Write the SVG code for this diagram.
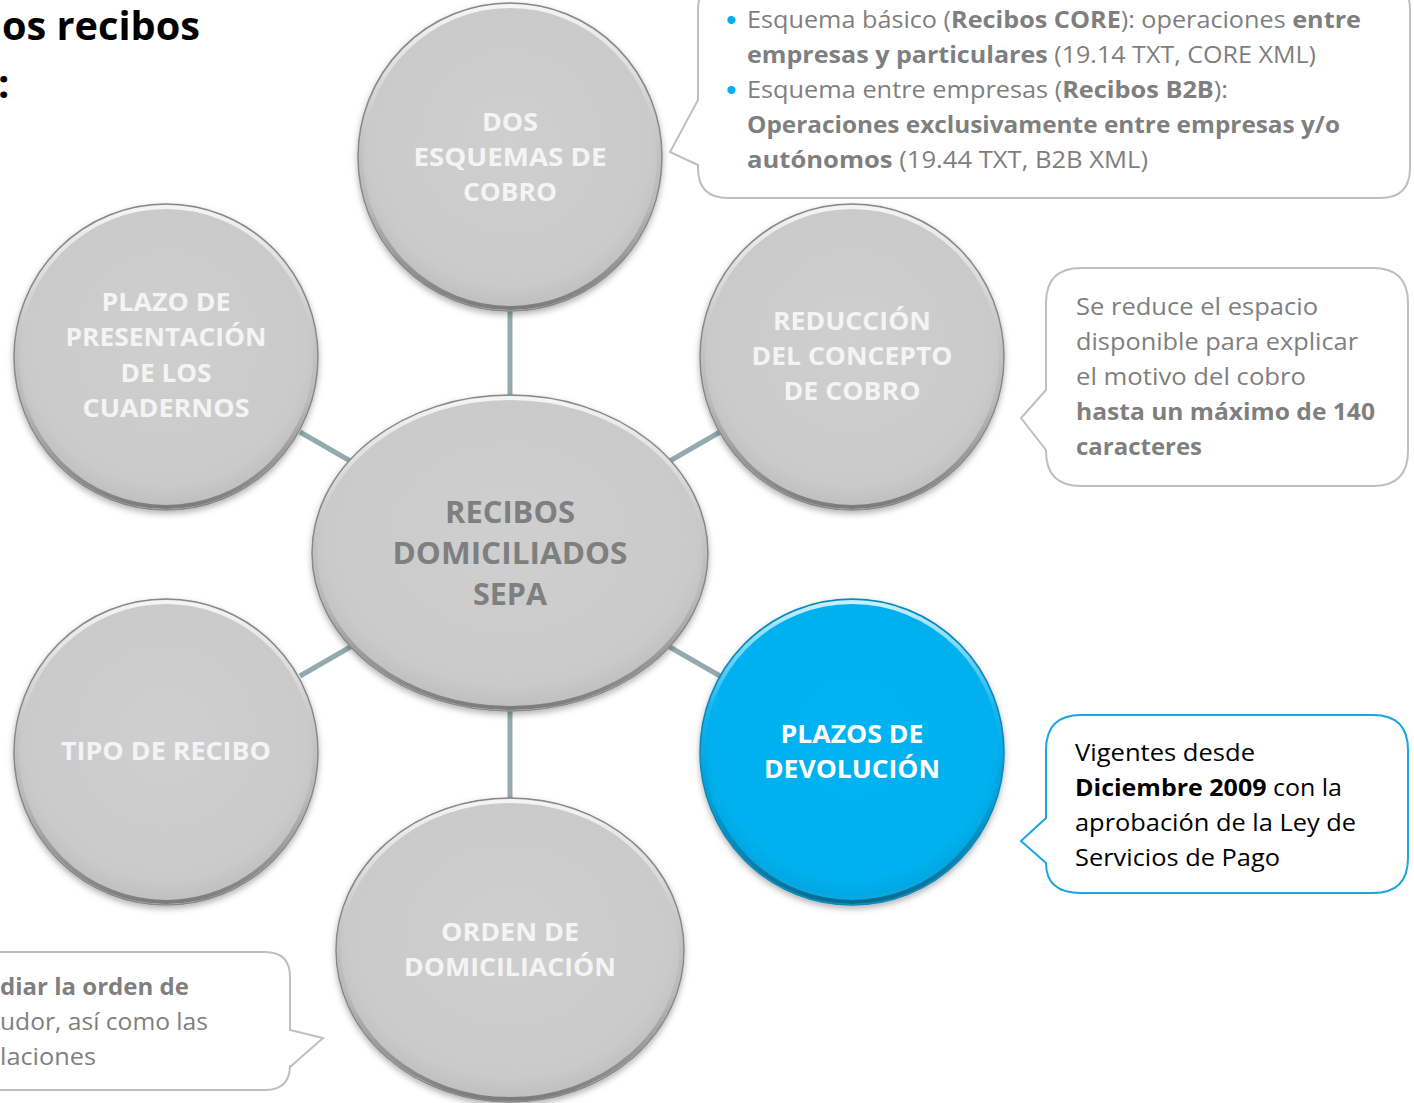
<svg xmlns="http://www.w3.org/2000/svg" width="1414" height="1103" viewBox="0 0 1414 1103">
<defs>
<style>
.t{font-family:"Open Sans","Liberation Sans",sans-serif}
.ct{font-family:"Open Sans","Liberation Sans",sans-serif;font-weight:bold;font-size:25px;fill:#f4f4f4;text-anchor:middle}
.cc{font-family:"Open Sans","Liberation Sans",sans-serif;font-weight:bold;font-size:30px;fill:#7f7f7f;text-anchor:middle}
.gt{font-family:"Open Sans","Liberation Sans",sans-serif;font-size:23px;fill:#7f7f7f}
.bt{font-family:"Open Sans","Liberation Sans",sans-serif;font-size:23px;fill:#000}
.bul{font-family:"Liberation Sans",sans-serif;font-size:30px;fill:#00b0f0}
.b{font-weight:bold}
.conn{stroke:#93aaae;stroke-width:5;fill:none}
.gray{fill:url(#gfill);stroke:#888;stroke-width:1.5;filter:url(#sh)}
.blue{fill:url(#bfill);stroke:#0a86b8;stroke-width:1.5;filter:url(#sh)}
.rim{fill:none;stroke:url(#rim);stroke-width:4}
.box{fill:#fff;stroke:#bfbfbf;stroke-width:2}
.boxb{fill:#fff;stroke:#1aa7e0;stroke-width:2}
</style>
<radialGradient id="gfill" cx="50%" cy="45%" r="55%">
<stop offset="0" stop-color="#cfcfcf"/>
<stop offset="0.85" stop-color="#cacaca"/>
<stop offset="1" stop-color="#bdbdbd"/>
</radialGradient>
<radialGradient id="bfill" cx="50%" cy="45%" r="55%">
<stop offset="0" stop-color="#00b3f0"/>
<stop offset="0.85" stop-color="#00b0ef"/>
<stop offset="1" stop-color="#0aa4dc"/>
</radialGradient>
<linearGradient id="rim" x1="0" y1="0" x2="0" y2="1">
<stop offset="0" stop-color="#ffffff" stop-opacity="0.8"/>
<stop offset="0.35" stop-color="#ffffff" stop-opacity="0.1"/>
<stop offset="0.65" stop-color="#000000" stop-opacity="0.05"/>
<stop offset="1" stop-color="#000000" stop-opacity="0.35"/>
</linearGradient>
<filter id="sh" x="-20%" y="-20%" width="140%" height="140%">
<feDropShadow dx="0" dy="3" stdDeviation="3" flood-color="#000" flood-opacity="0.3"/>
</filter>
</defs>
<rect width="1414" height="1103" fill="#fff"/>

<g id="title">
<text class="t b" x="2" y="40" font-size="40" textLength="198" lengthAdjust="spacingAndGlyphs" fill="#000">os recibos</text>
<text class="t b" x="-2" y="98" font-size="40" fill="#000">:</text>
</g>

<g id="connectors">
<line class="conn" x1="510" y1="310" x2="510" y2="397"/>
<line class="conn" x1="510" y1="710" x2="510" y2="799"/>
<line class="conn" x1="300" y1="432" x2="352" y2="462"/>
<line class="conn" x1="668" y1="462" x2="720" y2="432"/>
<line class="conn" x1="300" y1="676" x2="352" y2="646"/>
<line class="conn" x1="668" y1="646" x2="720" y2="676"/>
</g>

<g id="node-center">
<ellipse class="gray" cx="510" cy="553" rx="198" ry="158"/>
<ellipse class="rim" cx="510" cy="553" rx="195" ry="155"/>
<text class="cc" x="510" y="523" textLength="130" lengthAdjust="spacingAndGlyphs">RECIBOS</text>
<text class="cc" x="510" y="564" textLength="235" lengthAdjust="spacingAndGlyphs">DOMICILIADOS</text>
<text class="cc" x="510" y="605" textLength="74" lengthAdjust="spacingAndGlyphs">SEPA</text>
</g>

<g id="node-dos-esquemas">
<ellipse class="gray" cx="510" cy="157" rx="152" ry="154"/>
<ellipse class="rim" cx="510" cy="157" rx="149" ry="151"/>
<text class="ct" x="510" y="131" textLength="56" lengthAdjust="spacingAndGlyphs">DOS</text>
<text class="ct" x="510" y="166" textLength="193" lengthAdjust="spacingAndGlyphs">ESQUEMAS DE</text>
<text class="ct" x="510" y="201" textLength="94" lengthAdjust="spacingAndGlyphs">COBRO</text>
</g>

<g id="node-reduccion">
<ellipse class="gray" cx="852" cy="357" rx="152" ry="153"/>
<ellipse class="rim" cx="852" cy="357" rx="149" ry="150"/>
<text class="ct" x="852" y="330" textLength="158" lengthAdjust="spacingAndGlyphs">REDUCCIÓN</text>
<text class="ct" x="852" y="365" textLength="201" lengthAdjust="spacingAndGlyphs">DEL CONCEPTO</text>
<text class="ct" x="852" y="400" textLength="137" lengthAdjust="spacingAndGlyphs">DE COBRO</text>
</g>

<g id="node-plazo-presentacion">
<ellipse class="gray" cx="166" cy="357" rx="152" ry="153"/>
<ellipse class="rim" cx="166" cy="357" rx="149" ry="150"/>
<text class="ct" x="166" y="311" textLength="129" lengthAdjust="spacingAndGlyphs">PLAZO DE</text>
<text class="ct" x="166" y="346" textLength="201" lengthAdjust="spacingAndGlyphs">PRESENTACIÓN</text>
<text class="ct" x="166" y="382" textLength="91" lengthAdjust="spacingAndGlyphs">DE LOS</text>
<text class="ct" x="166" y="417" textLength="167" lengthAdjust="spacingAndGlyphs">CUADERNOS</text>
</g>

<g id="node-tipo-recibo">
<ellipse class="gray" cx="166" cy="752" rx="152" ry="153"/>
<ellipse class="rim" cx="166" cy="752" rx="149" ry="150"/>
<text class="ct" x="166" y="760" textLength="210" lengthAdjust="spacingAndGlyphs">TIPO DE RECIBO</text>
</g>

<g id="node-plazos-devolucion">
<ellipse class="blue" cx="852" cy="752" rx="152" ry="153"/>
<ellipse class="rim" cx="852" cy="752" rx="149" ry="150"/>
<text class="ct" x="852" y="743" style="fill:#fff" textLength="143" lengthAdjust="spacingAndGlyphs">PLAZOS DE</text>
<text class="ct" x="852" y="778" style="fill:#fff" textLength="176" lengthAdjust="spacingAndGlyphs">DEVOLUCIÓN</text>
</g>

<g id="node-orden">
<ellipse class="gray" cx="510" cy="950" rx="174" ry="152"/>
<ellipse class="rim" cx="510" cy="950" rx="171" ry="149"/>
<text class="ct" x="510" y="941" textLength="138" lengthAdjust="spacingAndGlyphs">ORDEN DE</text>
<text class="ct" x="510" y="976" textLength="212" lengthAdjust="spacingAndGlyphs">DOMICILIACIÓN</text>
</g>

<g id="callout-esquemas">
<path class="box" d="M728,-20 H1380 Q1410,-20 1410,10 V168 Q1410,198 1380,198 H728 Q698,198 698,168 V165 L670,152 L698,100 V10 Q698,-20 728,-20 Z"/>
<text class="bul" x="726" y="30">•</text>
<text class="gt" x="747" y="28" textLength="614" lengthAdjust="spacingAndGlyphs">Esquema básico (<tspan class="b">Recibos CORE</tspan>): operaciones <tspan class="b">entre</tspan></text>
<text class="gt" x="747" y="63" textLength="569" lengthAdjust="spacingAndGlyphs"><tspan class="b">empresas y particulares</tspan> (19.14 TXT, CORE XML)</text>
<text class="bul" x="726" y="100">•</text>
<text class="gt" x="747" y="98" textLength="481" lengthAdjust="spacingAndGlyphs">Esquema entre empresas (<tspan class="b">Recibos B2B</tspan>):</text>
<text class="gt b" x="747" y="133" textLength="593" lengthAdjust="spacingAndGlyphs">Operaciones exclusivamente entre empresas y/o</text>
<text class="gt" x="747" y="168" textLength="401" lengthAdjust="spacingAndGlyphs"><tspan class="b">autónomos</tspan> (19.44 TXT, B2B XML)</text>
</g>

<g id="callout-reduccion">
<path class="box" d="M1081,268 H1373 Q1408,268 1408,303 V451 Q1408,486 1373,486 H1081 Q1046,486 1046,451 V450 L1021,418 L1046,390 V303 Q1046,268 1081,268 Z"/>
<text class="gt" x="1076" y="315" font-size="25" textLength="242" lengthAdjust="spacingAndGlyphs">Se reduce el espacio</text>
<text class="gt" x="1076" y="350" font-size="25" textLength="282" lengthAdjust="spacingAndGlyphs">disponible para explicar</text>
<text class="gt" x="1076" y="385" font-size="25" textLength="230" lengthAdjust="spacingAndGlyphs">el motivo del cobro</text>
<text class="gt b" x="1076" y="420" font-size="25" textLength="299" lengthAdjust="spacingAndGlyphs">hasta un máximo de 140</text>
<text class="gt b" x="1076" y="455" font-size="25" textLength="126" lengthAdjust="spacingAndGlyphs">caracteres</text>
</g>

<g id="callout-devolucion">
<path class="boxb" d="M1081,715 H1373 Q1408,715 1408,750 V858 Q1408,893 1373,893 H1081 Q1046,893 1046,863 L1021,841 L1046,818 V750 Q1046,715 1081,715 Z"/>
<text class="bt" x="1075" y="761" font-size="25" textLength="180" lengthAdjust="spacingAndGlyphs">Vigentes desde</text>
<text class="bt" x="1075" y="796" font-size="25" textLength="267" lengthAdjust="spacingAndGlyphs"><tspan class="b">Diciembre 2009</tspan> con la</text>
<text class="bt" x="1075" y="831" font-size="25" textLength="281" lengthAdjust="spacingAndGlyphs">aprobación de la Ley de</text>
<text class="bt" x="1075" y="866" font-size="25" textLength="205" lengthAdjust="spacingAndGlyphs">Servicios de Pago</text>
</g>

<g id="callout-orden">
<path class="box" d="M-30,952 H265 Q290,952 290,977 V1030 L323,1038 L290,1067 V1065 Q290,1090 265,1090 H-30 Z"/>
<text class="gt b" x="0" y="995" font-size="25" textLength="189" lengthAdjust="spacingAndGlyphs">diar la orden de</text>
<text class="gt" x="0" y="1030" font-size="25" textLength="208" lengthAdjust="spacingAndGlyphs">udor, así como las</text>
<text class="gt" x="0" y="1065" font-size="25" textLength="96" lengthAdjust="spacingAndGlyphs">laciones</text>
</g>
</svg>
